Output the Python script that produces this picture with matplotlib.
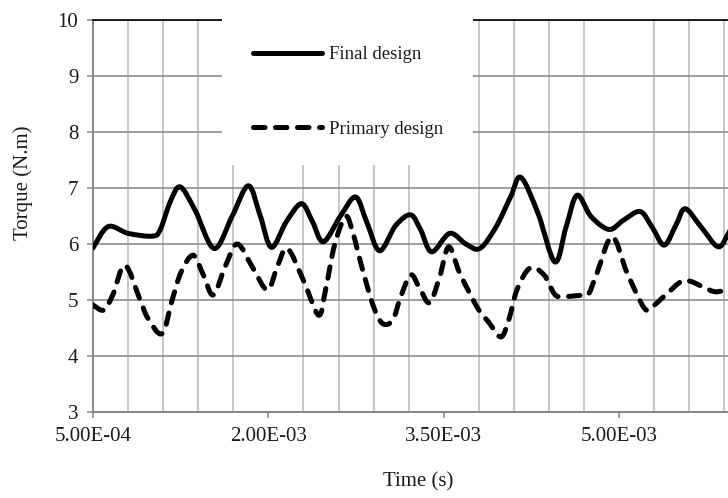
import numpy as np
import matplotlib
matplotlib.use("Agg")
import matplotlib.pyplot as plt
from matplotlib.path import Path
from matplotlib.patches import PathPatch, Rectangle
from matplotlib.lines import Line2D
from matplotlib.ticker import FixedLocator, FuncFormatter

# ---------------- data ----------------
final_time_ms = [0.500, 0.629, 0.800, 1.006, 1.074, 1.160, 1.246, 1.374, 1.537, 1.691,
                 1.829, 1.931, 2.026, 2.154, 2.283, 2.377, 2.471, 2.617, 2.746, 2.840,
                 2.951, 3.089, 3.217, 3.303, 3.397, 3.551, 3.689, 3.809, 3.946, 4.074,
                 4.160, 4.306, 4.451, 4.546, 4.640, 4.760, 4.914, 5.034, 5.180, 5.283,
                 5.386, 5.489, 5.566, 5.703, 5.849, 5.943, 6.000]
final_torque = [5.93, 6.31, 6.19, 6.14, 6.25, 6.75, 7.02, 6.60, 5.92, 6.50,
                7.04, 6.50, 5.94, 6.40, 6.72, 6.40, 6.04, 6.50, 6.84, 6.40,
                5.88, 6.33, 6.52, 6.25, 5.86, 6.19, 6.00, 5.92, 6.30, 6.85,
                7.19, 6.55, 5.68, 6.30, 6.87, 6.49, 6.26, 6.42, 6.58, 6.30,
                5.98, 6.35, 6.63, 6.30, 5.95, 6.22, 6.40]

primary_time_ms = [0.500, 0.594, 0.671, 0.774, 0.903, 0.971, 1.091, 1.177, 1.254, 1.357,
                   1.443, 1.529, 1.631, 1.734, 1.863, 1.991, 2.077, 2.163, 2.300, 2.429,
                   2.489, 2.566, 2.660, 2.720, 2.806, 2.900, 2.977, 3.063, 3.131, 3.217,
                   3.294, 3.380, 3.466, 3.543, 3.637, 3.783, 3.886, 3.989, 4.057, 4.126,
                   4.237, 4.357, 4.443, 4.503, 4.700, 4.743, 4.811, 4.940, 5.069, 5.214,
                   5.283, 5.403, 5.531, 5.617, 5.814, 5.943, 6.000]
primary_torque = [4.91, 4.82, 5.10, 5.62, 5.00, 4.67, 4.40, 5.00, 5.50, 5.80,
                  5.45, 5.09, 5.60, 6.00, 5.59, 5.18, 5.60, 5.92, 5.35, 4.73,
                  5.18, 5.98, 6.49, 6.22, 5.54, 4.88, 4.58, 4.64, 5.05, 5.45,
                  5.21, 4.95, 5.42, 5.95, 5.48, 4.88, 4.60, 4.34, 4.65, 5.18,
                  5.57, 5.45, 5.12, 5.06, 5.09, 5.12, 5.48, 6.13, 5.48, 4.86,
                  4.88, 5.10, 5.33, 5.33, 5.15, 5.21, 5.23]

series_labels = ["Final design", "Primary design"]
x_tick_values = [5.0e-4, 2.0e-3, 3.5e-3, 5.0e-3]
y_tick_values = [3, 4, 5, 6, 7, 8, 9, 10]
x_label = "Time (s)"
y_label = "Torque (N.m)"

# ---------------- style ----------------
plt.rcParams["font.family"] = ["Liberation Serif", "DejaVu Serif"]
FS = 15
FS_LEG = 13.5
TXT = "#1a1a1a"
AXIS_GRAY = "#858585"
HGRID = "#8c8c8c"
VGRID = "#c3c3c3"
LW = 3.6
DASH = (0, (2.3, 2.1))


def smooth_path(x, y):
    """Smoothed (Excel-like) path through the given data points."""
    pts = np.column_stack([x, y])
    n = len(pts)
    verts = [pts[0]]
    codes = [Path.MOVETO]
    for i in range(n - 1):
        p0 = pts[max(i - 1, 0)]
        p1 = pts[i]
        p2 = pts[i + 1]
        p3 = pts[min(i + 2, n - 1)]
        c1 = p1 + (p2 - p0) / 6.0
        c2 = p2 - (p3 - p1) / 6.0
        verts += [c1, c2, p2]
        codes += [Path.CURVE4] * 3
    return Path(np.array(verts), codes)


W, H = 728, 498
fig = plt.figure(figsize=(W / 100, H / 100), dpi=100)
ax = fig.add_axes([93 / W, (H - 412) / H, (736 - 93) / W, (412 - 20) / H])

t_final = np.array(final_time_ms) * 1e-3
t_primary = np.array(primary_time_ms) * 1e-3

ax.set_xlim(5.0e-4, 6.0e-3)
ax.set_ylim(3, 10)

# grid
ax.xaxis.set_major_locator(FixedLocator(x_tick_values))
ax.xaxis.set_minor_locator(FixedLocator(list(np.arange(5.0e-4, 6.01e-3, 3.0e-4))))
ax.yaxis.set_major_locator(FixedLocator(y_tick_values))
ax.grid(which="minor", axis="x", color=VGRID, lw=1.3, zorder=0)
ax.grid(which="major", axis="y", color=HGRID, lw=1.2, zorder=0.5)
ax.set_axisbelow(True)

ax.xaxis.set_major_formatter(FuncFormatter(lambda v, p: f"{v:.2E}"))
ax.tick_params(axis="x", which="major", direction="out", length=4, width=1.1,
               color=AXIS_GRAY, labelsize=FS, labelcolor=TXT, pad=7)
ax.tick_params(axis="x", which="minor", length=0)
ax.tick_params(axis="y", which="major", direction="out", length=4.5, width=1.1,
               color=AXIS_GRAY, labelsize=FS, labelcolor=TXT, pad=6)

for s in ("left", "bottom"):
    ax.spines[s].set_color(AXIS_GRAY)
    ax.spines[s].set_linewidth(1.4)
ax.spines["top"].set_color("black")
ax.spines["top"].set_linewidth(1.2)
ax.spines["right"].set_visible(False)

# curves
p1 = PathPatch(smooth_path(t_final, final_torque), fill=False, edgecolor="black",
               lw=LW, capstyle="round", joinstyle="round", zorder=3)
p2 = PathPatch(smooth_path(t_primary, primary_torque), fill=False, edgecolor="black",
               lw=LW, linestyle=DASH, capstyle="round", joinstyle="round", zorder=3)
ax.add_patch(p2)
ax.add_patch(p1)

# legend box (white, covering grid)
fig.patches.append(Rectangle((222 / W, 1 - 165 / H), (473 - 222) / W, 165 / H,
                             transform=fig.transFigure, facecolor="white",
                             edgecolor="none", zorder=1))
handles = [Line2D([], [], color="black", lw=LW, solid_capstyle="round"),
           Line2D([], [], color="black", lw=LW, linestyle=DASH, dash_capstyle="round")]
fig.legend(handles, series_labels, loc="upper left",
           bbox_to_anchor=(253 / W, 1 - 46 / H), frameon=False, fontsize=FS_LEG,
           handlelength=3.7, handletextpad=0.35, labelspacing=3.06, borderpad=0,
           borderaxespad=0, labelcolor=TXT)

fig.text(418 / W, 1 - 482 / H, x_label, ha="center", va="center", fontsize=FS, color=TXT)
fig.text(23 / W, 1 - 183 / H, y_label, ha="center", va="center", rotation=90,
         fontsize=FS, color=TXT)

fig.savefig("out.png", dpi=100)
